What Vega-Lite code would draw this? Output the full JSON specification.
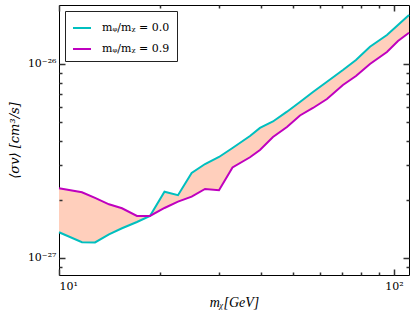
{
  "$schema": "https://vega.github.io/schema/vega-lite/v6.json",
  "width": 350,
  "height": 270,
  "autosize": {"type": "none"},
  "padding": {"left": 59, "top": 5, "right": 6, "bottom": 43},
  "background": "white",
  "data": {
    "values": [
      {"m": 10, "s0": 1.357e-27, "s9": 2.288e-27},
      {"m": 11.71, "s0": 1.205e-27, "s9": 2.182e-27},
      {"m": 12.81, "s0": 1.202e-27, "s9": 2.039e-27},
      {"m": 14.10, "s0": 1.325e-27, "s9": 1.891e-27},
      {"m": 15.42, "s0": 1.423e-27, "s9": 1.804e-27},
      {"m": 17.09, "s0": 1.533e-27, "s9": 1.646e-27},
      {"m": 18.69, "s0": 1.646e-27, "s9": 1.646e-27},
      {"m": 20.65, "s0": 2.197e-27, "s9": 1.81e-27},
      {"m": 22.66, "s0": 2.107e-27, "s9": 1.951e-27},
      {"m": 24.89, "s0": 2.743e-27, "s9": 2.07e-27},
      {"m": 27.29, "s0": 3.051e-27, "s9": 2.268e-27},
      {"m": 30.04, "s0": 3.316e-27, "s9": 2.234e-27},
      {"m": 32.96, "s0": 3.69e-27, "s9": 2.927e-27},
      {"m": 37.17, "s0": 4.255e-27, "s9": 3.304e-27},
      {"m": 39.81, "s0": 4.679e-27, "s9": 3.603e-27},
      {"m": 43.53, "s0": 5.053e-27, "s9": 4.205e-27},
      {"m": 47.93, "s0": 5.677e-27, "s9": 4.735e-27},
      {"m": 52.41, "s0": 6.37e-27, "s9": 5.428e-27},
      {"m": 57.31, "s0": 7.172e-27, "s9": 5.932e-27},
      {"m": 63.10, "s0": 8.1e-27, "s9": 6.6e-27},
      {"m": 70.42, "s0": 9.31e-27, "s9": 7.79e-27},
      {"m": 77.02, "s0": 1.049e-26, "s9": 8.67e-27},
      {"m": 84.80, "s0": 1.228e-26, "s9": 1.0e-26},
      {"m": 95.3, "s0": 1.411e-26, "s9": 1.153e-26},
      {"m": 102.8, "s0": 1.589e-26, "s9": 1.314e-26},
      {"m": 110.9, "s0": 1.789e-26, "s9": 1.45e-26}
    ]
  },
  "resolve": {"axis": {"x": "independent", "y": "independent"}},
  "layer": [
    {
      "mark": {"type": "area", "color": "#FFCFBC", "opacity": 1},
      "encoding": {
        "x": {
          "field": "m", "type": "quantitative",
          "scale": {"type": "log", "domain": [10, 110.9], "nice": false, "zero": false},
          "axis": {"orient": "bottom", "values": [10, 100], "zindex": 2, "grid": true, "gridDash": [6, 258, 6, 100],
                   "gridColor": "#333333", "gridWidth": 1.5, "gridOpacity": 1, "ticks": false, "labelPadding": 5,
                   "labelExpr": "datum.value < 50 ? '10¹' : '10²'",
                   "title": "mᵪ[GeV]", "titleFontStyle": "italic", "titlePadding": 4}
        },
        "y": {
          "field": "s0", "type": "quantitative",
          "scale": {"type": "log", "domain": [8.17e-28, 2.014e-26], "nice": false, "zero": false},
          "axis": {"orient": "left", "values": [1e-27, 1e-26], "zindex": 2, "grid": true, "gridDash": [6, 338, 6, 100],
                   "gridColor": "#333333", "gridWidth": 1.5, "gridOpacity": 1, "ticks": false, "labelPadding": 3,
                   "labelExpr": "datum.value < 5e-27 ? '10⁻²⁷' : '10⁻²⁶'",
                   "title": "⟨σv⟩ [cm³/s]", "titleFont": "DejaVu Serif", "titleFontSize": 13,
                   "titleFontStyle": "italic", "titlePadding": 6}
        },
        "y2": {"field": "s9"}
      }
    },
    {
      "transform": [{"fold": ["s0", "s9"], "as": ["key", "value"]}],
      "mark": {"type": "line", "strokeWidth": 2},
      "encoding": {
        "x": {
          "field": "m", "type": "quantitative",
          "axis": {"orient": "bottom", "values": [20, 30, 40, 50, 60, 70, 80, 90], "zindex": 2, "grid": true,
                   "gridColor": "#333333", "gridWidth": 1.5, "gridOpacity": 1, "ticks": false,
                   "gridDash": [3, 264, 3, 100], "labels": false, "title": null}
        },
        "y": {
          "field": "value", "type": "quantitative",
          "axis": {"orient": "left", "values": [9e-28, 2e-27, 3e-27, 4e-27, 5e-27, 6e-27, 7e-27, 8e-27, 9e-27],
                   "zindex": 2, "grid": true, "gridDash": [3, 344, 3, 100],
                   "gridColor": "#333333", "gridWidth": 1.5, "gridOpacity": 1, "ticks": false,
                   "labels": false, "title": null}
        },
        "color": {
          "field": "key", "type": "nominal",
          "scale": {"domain": ["s0", "s9"], "range": ["#00BFBF", "#BF00BF"]},
          "legend": {
            "orient": "none", "legendX": 6, "legendY": 6, "title": null,
            "labelExpr": "datum.value == 's0' ? 'mᵩ/mᵪ = 0.0' : 'mᵩ/mᵪ = 0.9'"
          }
        }
      }
    }
  ],
  "config": {
    "view": {"stroke": "black", "strokeWidth": 1},
    "axis": {
      "domain": false,
      "labelFont": "DejaVu Serif", "labelFontSize": 11, "labelColor": "black",
      "titleFont": "Liberation Serif", "titleFontSize": 14, "titleColor": "black", "titleFontWeight": "normal"
    },
    "legend": {
      "strokeColor": "#222", "fillColor": "white", "padding": 7, "cornerRadius": 0,
      "symbolType": "stroke", "symbolSize": 324, "symbolStrokeWidth": 2,
      "labelFont": "DejaVu Serif", "labelFontSize": 11, "labelColor": "black", "labelOffset": 10,
      "rowPadding": 6
    }
  }
}
